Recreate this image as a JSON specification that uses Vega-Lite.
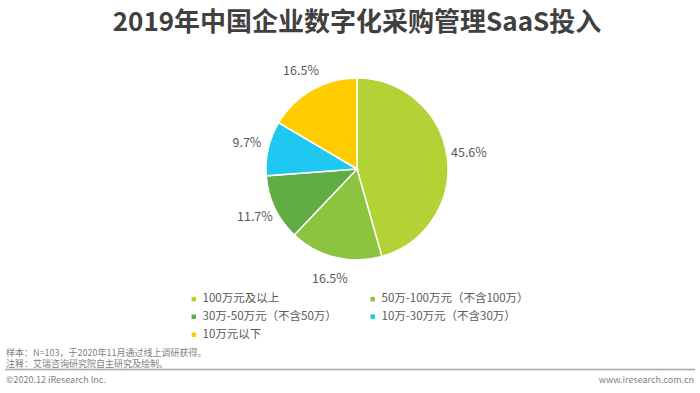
{
  "$schema": "https://vega.github.io/schema/vega-lite/v6.json",
  "width": 686,
  "height": 338,
  "autosize": {"type": "none"},
  "padding": {"left": 14, "top": 0, "right": 0, "bottom": 55},
  "background": "white",
  "title": {
    "text": "2019年中国企业数字化采购管理SaaS投入",
    "anchor": "middle",
    "frame": "group",
    "fontSize": 26,
    "fontWeight": "bold",
    "font": "Noto Sans CJK SC",
    "color": "#404040",
    "dy": 40
  },
  "config": {
    "view": {"stroke": null},
    "font": "Noto Sans CJK SC"
  },
  "data": {
    "values": [
      {"category": "100万元及以上", "share": 0.456, "order": 1},
      {"category": "50万-100万元（不含100万）", "share": 0.165, "order": 2},
      {"category": "30万-50万元（不含50万）", "share": 0.117, "order": 3},
      {"category": "10万-30万元（不含30万）", "share": 0.097, "order": 4},
      {"category": "10万元以下", "share": 0.165, "order": 5}
    ]
  },
  "layer": [
    {
      "mark": {"type": "arc", "outerRadius": 91, "stroke": "white", "strokeWidth": 1.5},
      "encoding": {
        "theta": {"field": "share", "type": "quantitative", "stack": true},
        "order": {"field": "order", "type": "quantitative"},
        "color": {
          "field": "category",
          "type": "nominal",
          "scale": {
            "domain": ["100万元及以上", "30万-50万元（不含50万）", "10万元以下", "50万-100万元（不含100万）", "10万-30万元（不含30万）"],
            "range": ["#B3D235", "#62AC46", "#FFCC00", "#8DC43F", "#1EC8F0"]
          },
          "legend": {
            "title": null,
            "orient": "none",
            "legendX": 174,
            "legendY": 293,
            "columns": 2,
            "columnPadding": 30,
            "rowPadding": 5,
            "padding": 0,
            "symbolType": "square",
            "symbolSize": 20,
            "symbolStrokeWidth": 0,
            "labelOffset": 3,
            "labelFontSize": 11.5,
            "labelColor": "#595959",
            "labelFont": "Noto Sans CJK SC",
            "labelLimit": 300
          }
        }
      }
    },
    {
      "mark": {"type": "text", "radius": 113, "fontSize": 12.5, "color": "#595959", "align": "center", "baseline": "middle"},
      "encoding": {
        "theta": {"field": "share", "type": "quantitative", "stack": true},
        "order": {"field": "order", "type": "quantitative"},
        "text": {"field": "share", "type": "quantitative", "format": ".1%"}
      }
    },
    {
      "data": {"values": [{}]},
      "mark": {"type": "text", "align": "left", "baseline": "middle", "fontSize": 9, "color": "#7f7f7f"},
      "encoding": {
        "x": {"value": -8},
        "y": {"value": 352.5},
        "text": {"value": "样本：N=103，于2020年11月通过线上调研获得。"}
      }
    },
    {
      "data": {"values": [{}]},
      "mark": {"type": "text", "align": "left", "baseline": "middle", "fontSize": 9, "color": "#7f7f7f"},
      "encoding": {
        "x": {"value": -8},
        "y": {"value": 364},
        "text": {"value": "注释：艾瑞咨询研究院自主研究及绘制。"}
      }
    },
    {
      "data": {"values": [{}]},
      "mark": {"type": "rule", "color": "#a6a6a6", "strokeWidth": 1.5},
      "encoding": {
        "x": {"value": -9},
        "x2": {"value": 681},
        "y": {"value": 369.5}
      }
    },
    {
      "data": {"values": [{}]},
      "mark": {"type": "text", "align": "left", "baseline": "middle", "fontSize": 9, "color": "#7f7f7f"},
      "encoding": {
        "x": {"value": -8},
        "y": {"value": 380},
        "text": {"value": "©2020.12 iResearch Inc."}
      }
    },
    {
      "data": {"values": [{}]},
      "mark": {"type": "text", "align": "right", "baseline": "middle", "fontSize": 9, "color": "#7f7f7f"},
      "encoding": {
        "x": {"value": 680},
        "y": {"value": 380},
        "text": {"value": "www.iresearch.com.cn"}
      }
    }
  ]
}
